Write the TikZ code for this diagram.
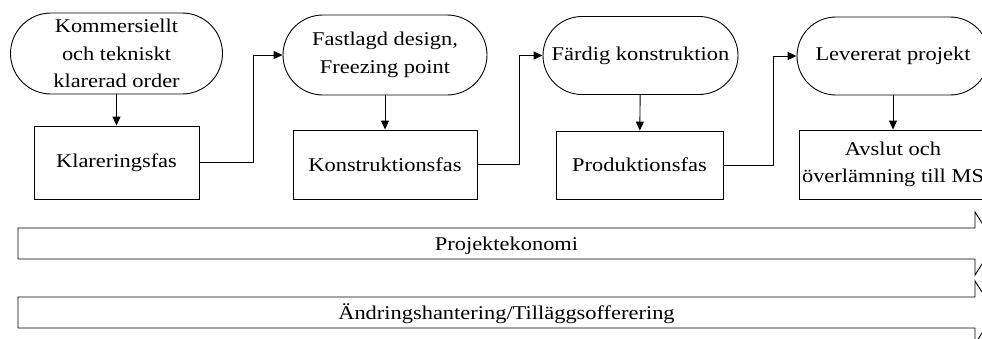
\documentclass[tikz,border=0pt]{standalone}
\usepackage{fontspec}
\setmainfont[FakeStretch=1.15]{Liberation Serif}
\usetikzlibrary{arrows.meta}
\begin{document}
\begin{tikzpicture}[x=1pt,y=-1pt,
  line width=0.9pt,
  every node/.style={font=\fontsize{19.5}{27.5}\selectfont, inner sep=0pt, align=center},
  terminal/.style={draw, rectangle},
  phase/.style={draw, rectangle},
  flow/.style={-{Triangle[length=9pt,width=8pt]}},
  band/.style={draw, line join=miter},
]
\useasboundingbox (0,0) rectangle (982,338);
\clip (0,0) rectangle (982,338);

% milestones (rounded terminals)
\node[terminal, minimum width=212pt, minimum height=81pt, rounded corners=40.5pt] (t1) at (116.5,53.5) {Kommersiellt\\och tekniskt\\klarerad order};
\node[terminal, minimum width=204pt, minimum height=80pt, rounded corners=40pt] (t2) at (385,55) {Fastlagd design,\\Freezing point};
\node[terminal, minimum width=195pt, minimum height=78pt, rounded corners=39pt] (t3) at (640.5,55.5) {Färdig konstruktion};
\node[terminal, minimum width=192pt, minimum height=78pt, rounded corners=39pt] (t4) at (893,56) {Levererat projekt};

% phases
\node[phase, minimum width=165pt, minimum height=73pt] (b1) at (116.5,162.5) {Klareringsfas};
\node[phase, minimum width=184pt, minimum height=69pt] (b2) at (385,164.5) {Konstruktionsfas};
\node[phase, minimum width=167pt, minimum height=68pt] (b3) at (639.5,165) {Produktionsfas};
\node[phase, minimum width=188pt, minimum height=69pt] (b4) at (893,164.5) {Avslut och\\överlämning till MS};

% milestone -> phase
\draw[flow] (t1) -- (b1);
\draw[flow] (t2) -- (b2);
\draw[flow] (t3) -- (b3);
\draw[flow] (t4) -- (b4);

% phase -> next milestone
\draw[flow] (b1.east) -- ++(54,0) |- (t2.west);
\draw[flow] (b2.east) -- ++(42,0) |- (t3.west);
\draw[flow] (b3.east) -- ++(50,0) |- (t4.west);

% continuous activities as block arrows
\draw[band] (18,228) -- (975,228) -- (975,212) -- (995,243.5) -- (975,275) -- (975,259) -- (18,259) -- cycle;
\node[anchor=base] (pe) at (506.5,250) {Projektekonomi};
\draw[band] (18,297) -- (975,297) -- (975,281) -- (995,312.5) -- (975,344) -- (975,328) -- (18,328) -- cycle;
\node[anchor=base] (ae) at (506.5,319) {Ändringshantering/Tilläggsofferering};
\end{tikzpicture}
\end{document}
